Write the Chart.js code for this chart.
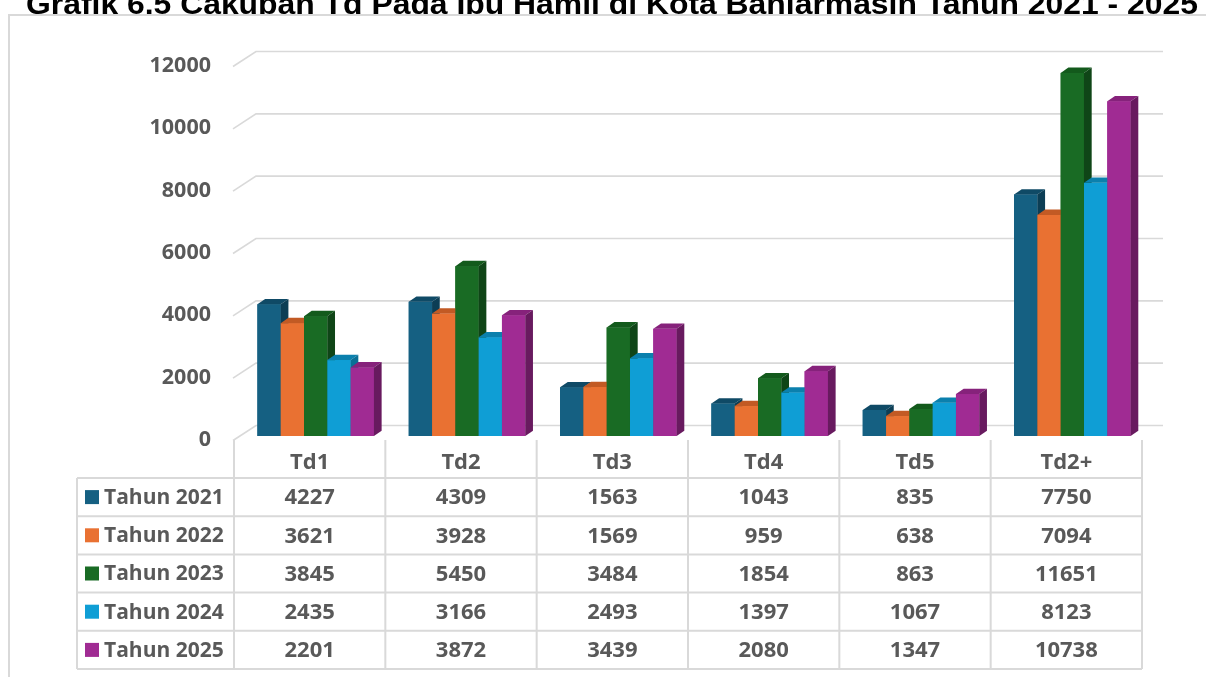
<!DOCTYPE html>
<html><head><meta charset="utf-8">
<script src="https://cdn.jsdelivr.net/npm/chart.js@4.4.1/dist/chart.umd.min.js"></script>
<style>html,body{margin:0;padding:0;background:#fff;overflow:hidden;} canvas{display:block;}</style>
</head><body>
<canvas id="c" width="1206" height="677"></canvas>
<script>
const TITLE = 'Grafik 6.5 Cakupan Td Pada Ibu Hamil di Kota Banjarmasin Tahun 2021 - 2025';
const categories = ['Td1', 'Td2', 'Td3', 'Td4', 'Td5', 'Td2+'];
const seriesNames = ['Tahun 2021', 'Tahun 2022', 'Tahun 2023', 'Tahun 2024', 'Tahun 2025'];
const tahun2021 = [4227, 4309, 1563, 1043, 835, 7750];
const tahun2022 = [3621, 3928, 1569, 959, 638, 7094];
const tahun2023 = [3845, 5450, 3484, 1854, 863, 11651];
const tahun2024 = [2435, 3166, 2493, 1397, 1067, 8123];
const tahun2025 = [2201, 3872, 3439, 2080, 1347, 10738];
const yTickValues = [0, 2000, 4000, 6000, 8000, 10000, 12000];
const seriesValues = [tahun2021, tahun2022, tahun2023, tahun2024, tahun2025];

const frontColors = ['#156082', '#E97132', '#196B24', '#0F9ED5', '#A02B93'];
const topColors   = ['#0F4A66', '#C25A24', '#135A1C', '#0B80AD', '#86227B'];
const sideColors  = ['#0C3E55', '#A84D1E', '#0F4517', '#096F96', '#681A5F'];

const TEXT = '#595959';
const LINE = '#D9D9D9';
const FONT = "'Open Sans', 'Liberation Sans', sans-serif";
const DX = 7.7, DY = 5.3;      // bar depth
const FDX = 23, FDY = 15;      // floor depth

const deco = {
  id: 'deco',
  beforeDraw(chart) {
    const ctx = chart.ctx;
    ctx.save();
    ctx.fillStyle = '#fff';
    ctx.fillRect(0, 0, chart.width, chart.height);
    // title (partly hidden behind the chart frame)
    ctx.fillStyle = '#000';
    ctx.font = "bold 30px 'Liberation Sans', Arial, sans-serif";
    ctx.textBaseline = 'alphabetic';
    const w = ctx.measureText(TITLE).width;
    const target = 1172;
    ctx.translate(26, 14);
    ctx.scale(target / w, 1);
    ctx.fillText(TITLE, 0, 0);
    ctx.restore();
    ctx.save();
    // chart frame
    ctx.fillStyle = '#fff';
    ctx.fillRect(9, 15, chart.width, chart.height);
    ctx.strokeStyle = LINE;
    ctx.lineWidth = 2;
    ctx.beginPath();
    ctx.moveTo(9, chart.height + 2);
    ctx.lineTo(9, 15);
    ctx.lineTo(chart.width + 2, 15);
    ctx.stroke();
    ctx.restore();
  },
  beforeDatasetsDraw(chart) {
    const ctx = chart.ctx, ys = chart.scales.y, ca = chart.chartArea;
    ctx.save();
    ctx.strokeStyle = LINE;
    ctx.lineWidth = 1.6;
    yTickValues.forEach(v => {
      const yF = ys.getPixelForValue(v) + 4.5;
      const xF = ca.left - 7;
      ctx.beginPath();
      ctx.moveTo(xF, yF);
      ctx.lineTo(xF + FDX, yF - FDY);
      ctx.lineTo(ca.right + 15, yF - FDY);
      ctx.stroke();
    });
    ctx.restore();
  },
  afterDatasetsDraw(chart) {
    const ctx = chart.ctx;
    ctx.save();
    categories.forEach((c, i) => {
      seriesValues.forEach((s, d) => {
        const el = chart.getDatasetMeta(d).data[i];
        const x0 = el.x - el.width / 2, x1 = el.x + el.width / 2;
        const yT = el.y, yB = el.base;
        ctx.fillStyle = frontColors[d];
        ctx.fillRect(x0, yT, x1 - x0, yB - yT);
        ctx.fillStyle = topColors[d];
        ctx.beginPath();
        ctx.moveTo(x0, yT); ctx.lineTo(x1, yT);
        ctx.lineTo(x1 + DX, yT - DY); ctx.lineTo(x0 + DX, yT - DY);
        ctx.closePath(); ctx.fill();
        ctx.fillStyle = sideColors[d];
        ctx.beginPath();
        ctx.moveTo(x1, yT); ctx.lineTo(x1 + DX, yT - DY);
        ctx.lineTo(x1 + DX, yB - DY); ctx.lineTo(x1, yB);
        ctx.closePath(); ctx.fill();
      });
    });
    ctx.restore();
  },
  afterDraw(chart) {
    const ctx = chart.ctx, xs = chart.scales.x, ys = chart.scales.y, ca = chart.chartArea;
    const shift = -6;
    const cw = (ca.right - ca.left) / categories.length;
    const L = ca.left + shift;
    const R = ca.right + shift;
    const headTop = ys.getPixelForValue(0) + 4;
    const tTop = 478, rowH = 38.2;
    const tBot = tTop + rowH * seriesNames.length;
    const legL = 77;
    ctx.save();
    ctx.strokeStyle = LINE;
    ctx.lineWidth = 2;
    ctx.beginPath();
    for (let k = 0; k <= categories.length; k++) {
      const x = L + k * cw;
      ctx.moveTo(x, headTop); ctx.lineTo(x, tBot);
    }
    ctx.moveTo(legL, tTop); ctx.lineTo(legL, tBot);
    for (let r = 0; r <= seriesNames.length; r++) {
      const y = tTop + r * rowH;
      ctx.moveTo(legL, y); ctx.lineTo(R, y);
    }
    ctx.stroke();

    ctx.fillStyle = TEXT;
    ctx.font = `bold 22px ${FONT}`;
    ctx.textAlign = 'center';
    ctx.textBaseline = 'middle';
    categories.forEach((c, i) => {
      const cx = xs.getPixelForValue(i) + shift;
      ctx.fillText(c, cx, (headTop + tTop) / 2 + 4);
      seriesValues.forEach((s, d) => {
        ctx.fillText(String(s[i]), cx, tTop + rowH * (d + 0.5) + 1);
      });
    });
    ctx.textAlign = 'left';
    ctx.font = `bold 21px ${FONT}`;
    seriesNames.forEach((n, d) => {
      const cy = tTop + rowH * (d + 0.5);
      ctx.fillStyle = frontColors[d];
      ctx.fillRect(85, cy - 7, 14, 14);
      ctx.fillStyle = TEXT;
      ctx.fillText(n, 104, cy + 1);
    });
    ctx.restore();
  }
};

new Chart(document.getElementById('c'), {
  type: 'bar',
  data: {
    labels: categories,
    datasets: seriesNames.map((n, d) => ({
      label: n,
      data: seriesValues[d],
      backgroundColor: frontColors[d],
      borderWidth: 0,
      categoryPercentage: 0.77,
      barPercentage: 1.0
    }))
  },
  options: {
    responsive: false,
    animation: false,
    devicePixelRatio: 1,
    layout: { padding: { left: 0, right: 58, top: 62, bottom: 241 } },
    plugins: { legend: { display: false }, tooltip: { enabled: false }, title: { display: false } },
    scales: {
      x: { display: false },
      y: {
        min: 0, max: 12000,
        afterFit(scale) { scale.width = 240; },
        afterBuildTicks(scale) { scale.ticks = yTickValues.map(v => ({ value: v })); },
        grid: { display: false, drawTicks: false },
        border: { display: false },
        ticks: {
          color: TEXT,
          font: { family: FONT, size: 21.5, weight: 'bold' },
          padding: 29,
          labelOffset: 4,
          callback: (v) => String(v)
        }
      }
    }
  },
  plugins: [deco]
});
</script>
</body></html>
